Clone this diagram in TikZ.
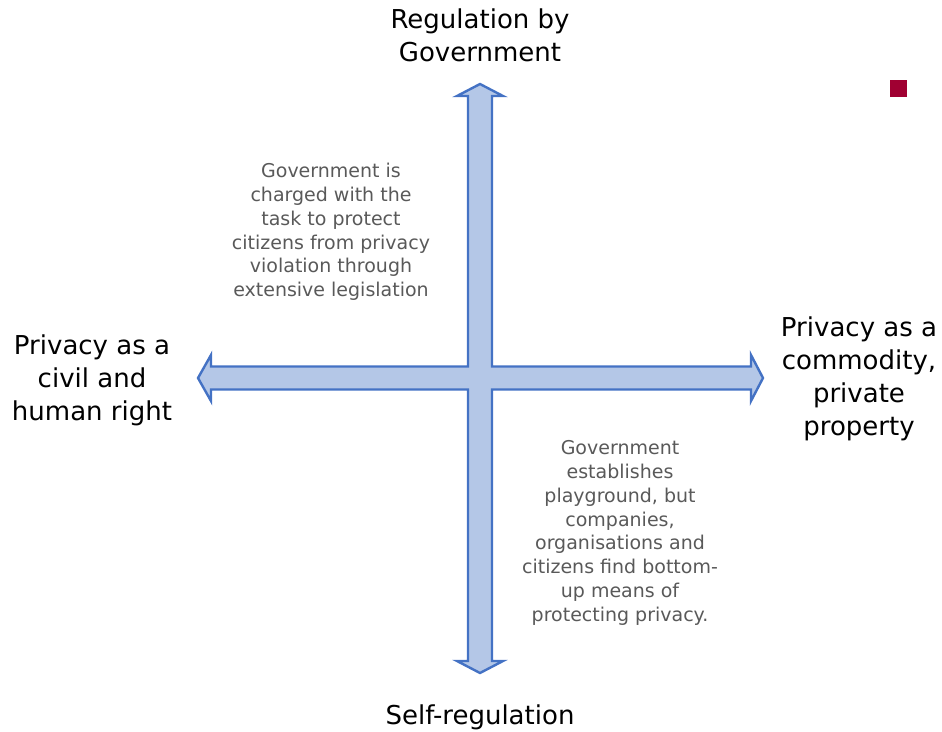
\documentclass[tikz,border=0pt]{standalone}
\usepackage{fontspec}
\setmainfont{DejaVu Sans}
\definecolor{crossfill}{RGB}{180,199,231}
\definecolor{crossline}{RGB}{68,114,196}
\definecolor{notegray}{RGB}{89,89,89}
\definecolor{markred}{RGB}{160,0,50}
\tikzset{
  axistext/.style={align=center, inner sep=0pt, text=black,
    font=\fontsize{26}{33}\selectfont},
  notetext/.style={align=center, inner sep=0pt, text=notegray,
    font=\fontsize{19}{23.8}\selectfont}
}
\begin{document}
\begin{tikzpicture}[x=1pt,y=-1pt]
    \useasboundingbox (0,0) rectangle (942,731);

    % Cross of two double arrows
    \draw[crossline, fill=crossfill, line width=2.4pt, line join=miter]
      (480,84) -- (503,96) -- (492,96) -- (492,366.5) -- (751,366.5)
      -- (751,355) -- (763,378) -- (751,401) -- (751,389.5) -- (492,389.5)
      -- (492,661) -- (503,661) -- (480,673) -- (457,661) -- (468,661)
      -- (468,389.5) -- (211,389.5) -- (211,401) -- (198,378) -- (211,355)
      -- (211,366.5) -- (468,366.5) -- (468,96) -- (457,96) -- cycle;

    % Axis ends
    \node[axistext] (gov) at (480,35) {Regulation by\\Government};
    \node[axistext] (self) at (480,717) {Self-regulation};
    \node[axistext] (civil) at (92,380) {Privacy as a\\civil and\\human right};
    \node[axistext] (commodity) at (859,379) {Privacy as a\\commodity,\\private\\property};

    % Quadrant notes
    \node[notetext] (upper) at (331,232) {Government is\\charged with the\\task to protect\\citizens from privacy\\violation through\\extensive legislation};
    \node[notetext] (lower) at (620,533) {Government\\establishes\\playground, but\\companies,\\organisations and\\citizens find bottom-\\up means of\\protecting privacy.};

    % Slide mark
    \fill[markred] (890,80) rectangle (907,97);
\end{tikzpicture}
\end{document}
